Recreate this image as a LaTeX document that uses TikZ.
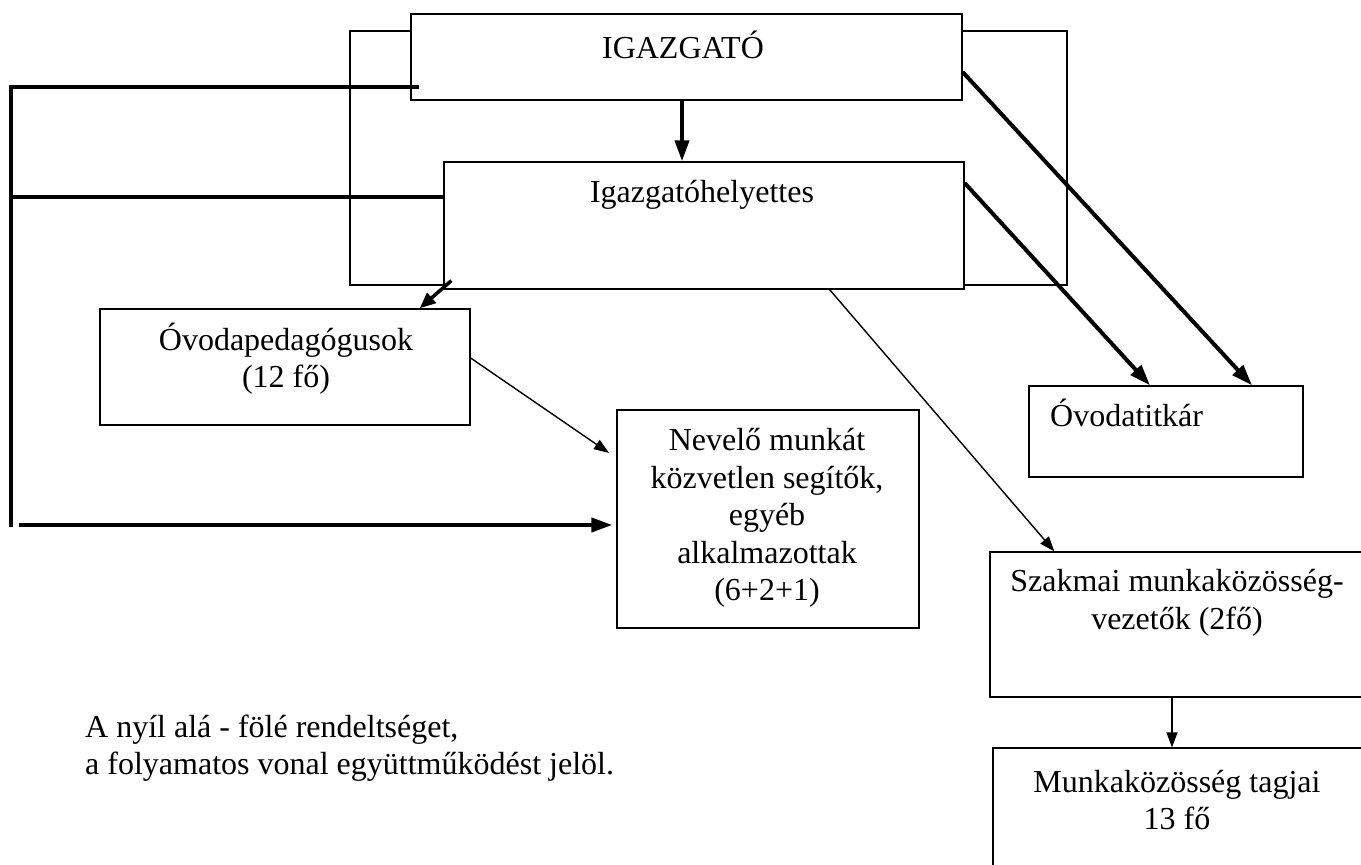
\documentclass[tikz,border=0pt]{standalone}
\usepackage{fontspec}
\setmainfont{Liberation Serif}
\usetikzlibrary{arrows.meta,positioning,calc}

\begin{document}
\begin{tikzpicture}[x=1pt,y=-1pt,
  box/.style={draw,fill=white,line width=1.3pt,inner sep=0pt},
  txt/.style={font=\fontsize{32}{37.5}\selectfont,align=center,inner sep=0pt},
  thickline/.style={line width=4pt},
  bigarrow/.style={line width=4pt,-{Triangle[length=21pt,width=14pt]}},
  thinarrow/.style={line width=1.4pt,-{Triangle[length=15pt,width=11pt]}}]
\useasboundingbox (0,0) rectangle (1361,865);
\clip (0,0) rectangle (1361,865);
\fill[white] (0,0) rectangle (1361,865);
% keret a vezetok mogott
\draw[line width=1.3pt] (350,31) rectangle (1067,285);
% dobozok
\node[box,minimum width=551pt,minimum height=86pt] (igaz) at (686.5,57) {};
\node[box,minimum width=520pt,minimum height=127pt] (helyettes) at (704,225.5) {};
\node[box,minimum width=370pt,minimum height=116pt] (ovoda) at (285,367) {};
\node[box,minimum width=302pt,minimum height=218pt] (nevelo) at (768,519) {};
\node[box,minimum width=274pt,minimum height=91pt] (titkar) at (1166,431.5) {};
\node[box,minimum width=390pt,minimum height=145pt] (szakmai) at (1185,624.5) {};
\node[box,minimum width=387pt,minimum height=142pt] (munka) at (1186.5,819) {};
% feliratok
\node[txt] (igazT) at (683,45) {IGAZGATÓ};
\node[txt] (helyettesT) at (702,195) {Igazgatóhelyettes};
\node[txt] (ovodaT) at (286,358.5) {Óvodapedagógusok\\(12 fő)};
\node[txt] (neveloT) at (767,518) {Nevelő munkát\\közvetlen segítők,\\egyéb\\alkalmazottak\\(6+2+1)};
\node[txt,anchor=west] (titkarT) at (1050,413) {Óvodatitkár};
\node[txt] (szakmaiT) at (1177,603) {Szakmai munkaközösség-\\vezetők (2fő)};
\node[txt] (munkaT) at (1177,800) {Munkaközösség tagjai\\13 fő};
\node[txt,align=left,anchor=west] (jelmagy) at (85,748) {A nyíl alá - fölé rendeltséget,\\a folyamatos vonal együttműködést jelöl.};
% egyuttmukodes a bal oldalon
\coordinate (bf) at (11,87);
\coordinate (ba) at (11,527);
\coordinate (bn) at (19,525);
\draw[thickline] (bf) -- (ba);
\draw[thickline] ([xshift=-2pt]bf) -- ([xshift=9pt]igaz.west |- bf);
\draw[thickline] (bf |- 0,197) -- (helyettes.west |- 0,197);
\draw[bigarrow,shorten >=4pt] (bn) -- (nevelo.west |- bn);
% ala- foleRendeltseg
\draw[bigarrow] ([xshift=-4.5pt]igaz.south) -- ([xshift=-4.5pt]igaz.south |- helyettes.north);
\draw[bigarrow] ([yshift=-15pt]igaz.east) -- ([xshift=86pt]titkar.north);
\draw[bigarrow] ([yshift=42.5pt]helyettes.east) -- ([xshift=-16pt]titkar.north);
\draw[bigarrow,line width=3.5pt,-{Triangle[length=16pt,width=13pt]}] ([xshift=8pt,yshift=9pt]helyettes.south west) -- ([xshift=-51pt]ovoda.north east);
\draw[thinarrow] ([xshift=-135pt]helyettes.south east) -- ([xshift=65pt]szakmai.north west);
\draw[thinarrow,shorten >=9pt] ([yshift=9pt]ovoda.east) -- ([yshift=61pt]nevelo.west);
\draw[thinarrow] ([xshift=-13pt]szakmai.south) -- ([xshift=-13pt]szakmai.south |- munka.north);
\end{tikzpicture}
\end{document}
